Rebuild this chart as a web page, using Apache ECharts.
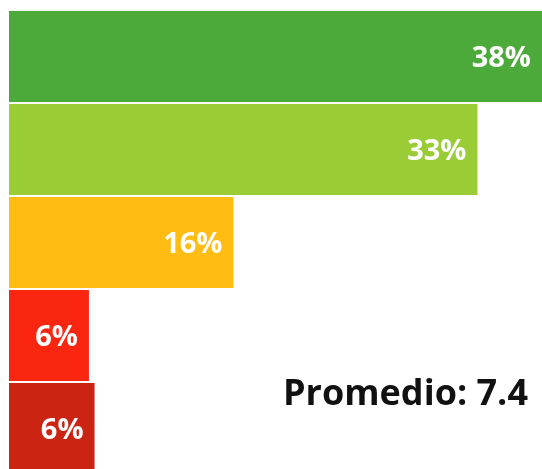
<!DOCTYPE html>
<html>
<head>
<meta charset="utf-8">
<script src="https://cdn.jsdelivr.net/npm/echarts@6/dist/echarts.min.js"></script>
<style>
html,body{margin:0;padding:0;background:#fff;overflow:hidden;}
#chart{width:542px;height:475px;}
</style>
</head>
<body>
<div id="chart"></div>
<script>
const categories = ['9-10', '8', '7', '5-6', '0-4'];
const values = [38, 33.4, 16, 5.7, 6.1];
const barColors = ['#4caa3a', '#9acd35', '#ffbc12', '#fb260f', '#cc2413'];
const averageText = 'Promedio: 7.4';

const chart = echarts.init(document.getElementById('chart'));
chart.setOption({
  animation: false,
  title: {
    text: averageText,
    left: 283,
    top: 377,
    padding: 0,
    textStyle: { fontFamily: 'Open Sans', fontWeight: 'bold', fontSize: 36, color: '#111' }
  },
  grid: { left: 9, width: 533, top: 10, bottom: 0, containLabel: false },
  xAxis: { type: 'value', min: 0, max: 38, show: false },
  yAxis: { type: 'category', data: categories, inverse: true, show: false },
  series: [{
    type: 'bar',
    barCategoryGap: '2%',
    data: values.map((v, i) => ({ value: v, itemStyle: { color: barColors[i] } })),
    label: {
      show: true,
      position: 'insideRight',
      distance: 11,
      offset: [0, 2],
      formatter: p => Math.round(p.value) + '%',
      color: '#fff',
      fontFamily: 'Open Sans',
      fontWeight: 'bold',
      fontSize: 29
    }
  }]
});
</script>
</body>
</html>
